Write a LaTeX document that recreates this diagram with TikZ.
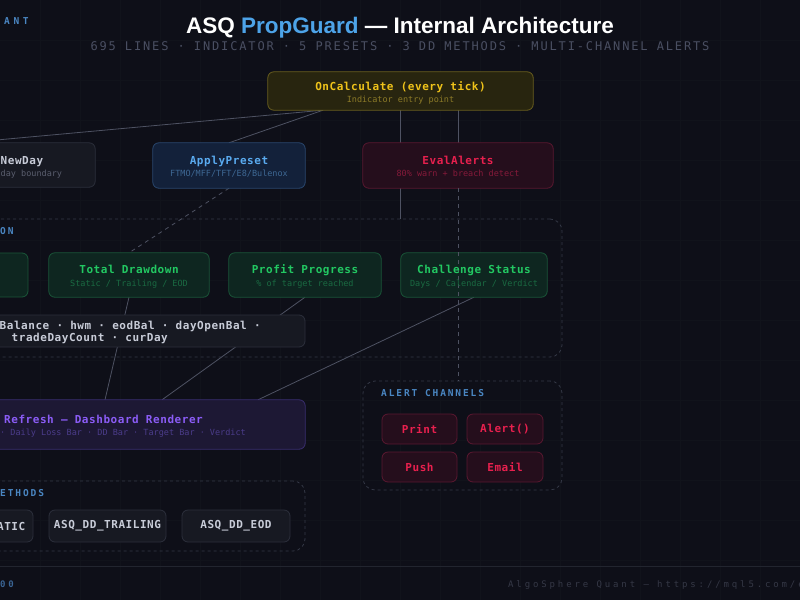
\documentclass[tikz,border=0pt]{standalone}
\usepackage{fontspec}
\setmainfont{Liberation Sans}
\newfontfamily\mtitle[LetterSpace=5]{DejaVu Sans Mono}
\newfontfamily\mplain{DejaVu Sans Mono}
\newfontfamily\mwide[LetterSpace=20]{DejaVu Sans Mono}
\newfontfamily\msubt[LetterSpace=15.5]{DejaVu Sans Mono}
\newfontfamily\mfoot[LetterSpace=32]{DejaVu Sans Mono}
\newfontfamily\mhead[LetterSpace=38]{DejaVu Sans Mono}
\usetikzlibrary{calc}
\definecolor{bg}{HTML}{0E0F18}
\definecolor{gridc}{HTML}{11131B}
\definecolor{conn}{HTML}{4E5262}
\definecolor{cont}{HTML}{343846}
\definecolor{secblue}{HTML}{4A86C2}
\definecolor{ylwF}{HTML}{28250F}\definecolor{ylwD}{HTML}{6A5F1E}\definecolor{ylwT}{HTML}{EFC31A}\definecolor{ylwS}{HTML}{8C7A28}
\definecolor{gryF}{HTML}{171922}\definecolor{gryD}{HTML}{2C2F3B}\definecolor{gryT}{HTML}{C8CCD8}\definecolor{gryS}{HTML}{5A5E6E}
\definecolor{bluF}{HTML}{13213A}\definecolor{bluD}{HTML}{2A4870}\definecolor{bluT}{HTML}{5AABF0}\definecolor{bluS}{HTML}{3E6894}
\definecolor{redF}{HTML}{250E1C}\definecolor{redD}{HTML}{5A1830}\definecolor{redT}{HTML}{E8204E}\definecolor{redS}{HTML}{861A3A}
\definecolor{grnF}{HTML}{0E2620}\definecolor{grnD}{HTML}{1A5638}\definecolor{grnT}{HTML}{22C862}\definecolor{grnS}{HTML}{1A6A42}
\definecolor{purF}{HTML}{1D1834}\definecolor{purD}{HTML}{3A2E70}\definecolor{purT}{HTML}{8B5CF6}\definecolor{purS}{HTML}{4B3C8A}
\definecolor{ttlblue}{HTML}{4DA3E8}
\definecolor{subgray}{HTML}{4A4F62}
\definecolor{footc}{HTML}{353846}
\definecolor{footl}{HTML}{22252F}
\definecolor{footb}{HTML}{3A6494}
\tikzset{
  boxs/.style={draw, rounded corners=6, line width=0.8},
  contbox/.style={draw=cont, rounded corners=12, line width=0.8, dash pattern=on 3 off 3},
  ttl/.style={anchor=base, inner sep=0, font=\mtitle\bfseries\fontsize{11}{13}\selectfont},
  ttlw/.style={anchor=base west, inner sep=0, font=\mtitle\bfseries\fontsize{11}{13}\selectfont},
  subl/.style={anchor=base, inner sep=0, font=\mplain\fontsize{8.5}{10}\selectfont},
  sublw/.style={anchor=base west, inner sep=0, font=\mplain\fontsize{8.5}{10}\selectfont},
  sec/.style={anchor=base west, inner sep=0, text=secblue, font=\mwide\bfseries\fontsize{9.5}{11}\selectfont},
  btn/.style={boxs, minimum height=30, font=\mtitle\bfseries\fontsize{11}{13}\selectfont},
  cline/.style={draw=conn, line width=0.8},
}
\begin{document}
\begin{tikzpicture}[x=1pt,y=-1pt]
\useasboundingbox (0,0) rectangle (800,600);
\clip (0,0) rectangle (800,600);
\fill[bg] (0,0) rectangle (800,600);
\foreach \gx in {40,80,...,760} \draw[gridc, line width=0.6] (\gx,0) -- (\gx,600);
\foreach \gy in {40,80,...,560} \draw[gridc, line width=0.6] (0,\gy) -- (800,\gy);

% header
\node[anchor=base west, inner sep=0, text=secblue, font=\mhead\bfseries\fontsize{9.5}{11}\selectfont] (brand) at (4,24) {ANT};
\node[anchor=base, inner sep=0, font=\bfseries\fontsize{22.5}{26}\selectfont, text=white] (title) at (400,33) {ASQ \textcolor{ttlblue}{PropGuard} — Internal Architecture};
\node[anchor=base, inner sep=0, text=subgray, font=\msubt\fontsize{12}{14}\selectfont] (subtitle) at (400,50.5) {695 LINES · INDICATOR · 5 PRESETS · 3 DD METHODS · MULTI-CHANNEL ALERTS};

% containers
\node[contbox, minimum width=582, minimum height=138] (calc) at (271,288) {};
\node[contbox, minimum width=199, minimum height=109] (alerts) at (462.5,435.5) {};
\node[contbox, minimum width=325, minimum height=70] (ddm) at (142.5,516) {};

% box frames (empty nodes, so connectors can be drawn beneath the fills)
\path
  node[minimum width=265, minimum height=38] (oncalc) at (400.5,91) {}
  node[minimum width=165, minimum height=44] (newday) at (12.5,165) {}
  node[minimum width=152, minimum height=45] (apply) at (229,165.5) {}
  node[minimum width=190, minimum height=45] (eval) at (458,165.5) {}
  node[minimum width=160, minimum height=44] (tdd) at (129,275) {}
  node[minimum width=152, minimum height=44] (profit) at (305,275) {}
  node[minimum width=146, minimum height=44] (chal) at (474,275) {}
  node[minimum width=365, minimum height=49] (dash) at (122.5,424.5) {};

% connectors
\draw[cline] ($(oncalc.south)+(-77.5,0)$) -- ($(newday.north)+(-46.5,0)$);
\draw[cline] ($(oncalc.south)+(-77.5,0)$) -- (apply.north);
\draw[cline] (oncalc.south) -- (oncalc.south |- calc.north);
\draw[cline] ($(oncalc.south)+(57.5,0)$) -- (eval.north);
\draw[cline, dash pattern=on 4 off 4] (apply.south) -- (tdd.north);
\draw[cline] (tdd.south) -- ($(dash.north)+(-17.5,0)$);
\draw[cline] (profit.south) -- ($(dash.north)+(39.5,0)$);
\draw[cline] (chal.south) -- ($(dash.north)+(135.5,0)$);

% filled boxes
\draw[boxs, fill=ylwF, draw=ylwD] (oncalc.south west) rectangle (oncalc.north east);
\draw[boxs, fill=gryF, draw=gryD] (newday.south west) rectangle (newday.north east);
\draw[boxs, fill=bluF, draw=bluD] (apply.south west) rectangle (apply.north east);
\draw[boxs, fill=redF, draw=redD] (eval.south west) rectangle (eval.north east);
\draw[boxs, fill=grnF, draw=grnD] (-60,253) rectangle (28,297);
\draw[boxs, fill=grnF, draw=grnD] (tdd.south west) rectangle (tdd.north east);
\draw[boxs, fill=grnF, draw=grnD] (profit.south west) rectangle (profit.north east);
\draw[boxs, fill=grnF, draw=grnD] (chal.south west) rectangle (chal.north east);
\draw[boxs, fill=gryF, draw=gryD] (-60,315) rectangle (305,347);
\draw[boxs, fill=purF, draw=purD] (dash.south west) rectangle (dash.north east);

% dashed alert link on top
\draw[cline, dash pattern=on 4 off 4] (eval.south) -- (eval.south |- alerts.north);

% texts
\node[ttl, text=ylwT] (t1) at (400.5,90) {OnCalculate (every tick)};
\node[subl, text=ylwS] (s1) at (400.5,102) {Indicator entry point};
\node[ttlw, text=gryT] (t2) at (0.5,164) {NewDay};
\node[sublw, text=gryS] (s2) at (0.5,176) {day boundary};
\node[ttl, text=bluT] (t3) at (229,164) {ApplyPreset};
\node[subl, text=bluS] (s3) at (229,176) {FTMO/MFF/TFT/E8/Bulenox};
\node[ttl, text=redT] (t4) at (458,164) {EvalAlerts};
\node[subl, text=redS] (s4) at (458,176) {80\% warn + breach detect};

\node[sec] (l1) at (0,234) {ON};
\node[ttl, text=grnT] (t5) at (129,273) {Total Drawdown};
\node[subl, text=grnS] (s5) at (129,286) {Static / Trailing / EOD};
\node[ttl, text=grnT] (t6) at (305,273) {Profit Progress};
\node[subl, text=grnS] (s6) at (305,286) {\% of target reached};
\node[ttl, text=grnT] (t7) at (474,273) {Challenge Status};
\node[subl, text=grnS] (s7) at (474,286) {Days / Calendar / Verdict};

\node[ttlw, text=gryT] (st1) at (-0.5,329) {Balance · hwm · eodBal · dayOpenBal ·};
\node[ttlw, text=gryT] (st2) at (11.5,341) {tradeDayCount · curDay};

\node[ttlw, text=purT] (t8) at (4,423) {Refresh — Dashboard Renderer};
\node[sublw, text=purS] (s8) at (0,435) {· Daily Loss Bar · DD Bar · Target Bar · Verdict};

% alert channels
\node[sec] (l2) at (381,396) {ALERT CHANNELS};
\node[btn, fill=redF, draw=redD, text=redT, minimum width=75] (print) at (419.5,429) {Print};
\node[btn, fill=redF, draw=redD, text=redT, minimum width=76] (alertf) at (505,429) {Alert()};
\node[btn, fill=redF, draw=redD, text=redT, minimum width=75] (push) at (419.5,467) {Push};
\node[btn, fill=redF, draw=redD, text=redT, minimum width=76] (email) at (505,467) {Email};

% dd methods
\node[sec] (l3) at (0,496) {ETHODS};
\draw[boxs, fill=gryF, draw=gryD] (-60,510) rectangle (33,542);
\node[ttl, anchor=base east, text=gryT] (b1) at (25.5,530) {ATIC};
\node[btn, fill=gryF, draw=gryD, text=gryT, minimum width=117, minimum height=32] (b2) at (107.5,526) {ASQ\_DD\_TRAILING};
\node[btn, fill=gryF, draw=gryD, text=gryT, minimum width=108, minimum height=32] (b3) at (236,526) {ASQ\_DD\_EOD};

% footer
\draw[footl, line width=1] (0,566) -- (800,566);
\node[anchor=base west, inner sep=0, text=footb, font=\mfoot\bfseries\fontsize{9}{11}\selectfont] (fl) at (0,587) {00};
\node[anchor=base west, inner sep=0, text=footc, font=\mfoot\fontsize{9}{11}\selectfont] (fr) at (508,587) {AlgoSphere Quant — https://mql5.com/e};
\end{tikzpicture}
\end{document}
